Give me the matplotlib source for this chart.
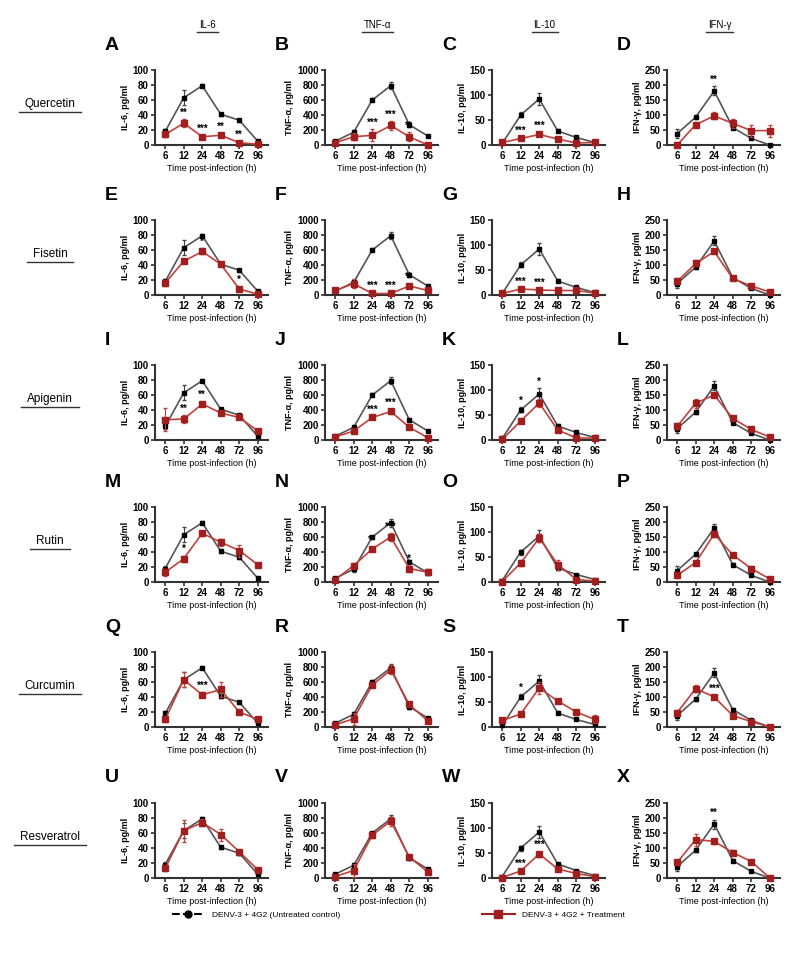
import numpy as np
import matplotlib
matplotlib.use('Agg')
import matplotlib.pyplot as plt
from matplotlib.lines import Line2D

plt.rcParams['font.family'] = ['Liberation Sans', 'DejaVu Sans']

# 数据：时间点、化合物、细胞因子
times = ["6", "12", "24", "48", "72", "96"]
compounds = ["Quercetin", "Fisetin", "Apigenin", "Rutin", "Curcumin", "Resveratrol"]
cytokines = ["IL-6", "TNF-α", "IL-10", "IFN-γ"]
ylabels = ["IL-6, pg/ml", "TNF-α, pg/ml", "IL-10, pg/ml", "IFN-γ, pg/ml"]
ymax = [100, 1000, 150, 250]
ystep = [20, 200, 50, 50]
letters = "ABCDEFGHIJKLMNOPQRSTUVWX"

# 未处理对照（每行相同）
ctrl_il6 = [18, 63, 79, 41, 33, 5]
ctrl_tnf = [50, 170, 600, 790, 270, 120]
ctrl_il10 = [3, 60, 92, 28, 15, 5]
ctrl_ifn = [38, 93, 180, 58, 22, 0]
ctrl_il6_err = [3, 10, 2, 2, 2, 2]
ctrl_tnf_err = [15, 30, 20, 50, 25, 15]
ctrl_il10_err = [2, 5, 12, 3, 2, 2]
ctrl_ifn_err = [15, 5, 15, 5, 3, 1]

# 处理组：每行一个化合物
trt_il6 = [
    [14, 29, 11, 13, 3, 1],
    [16, 45, 58, 41, 8, 1],
    [27, 28, 48, 36, 30, 12],
    [13, 31, 65, 53, 42, 23],
    [10, 63, 43, 50, 20, 10],
    [13, 63, 74, 58, 35, 11],
]
trt_il6_err = [
    [4, 5, 2, 2, 2, 1],
    [4, 3, 4, 2, 3, 1],
    [15, 5, 3, 2, 2, 2],
    [5, 4, 3, 5, 8, 2],
    [3, 10, 3, 10, 2, 3],
    [3, 15, 5, 8, 3, 2],
]
trt_tnf = [
    [30, 110, 130, 260, 110, 0],
    [60, 150, 20, 20, 120, 60],
    [40, 120, 300, 380, 170, 30],
    [30, 220, 440, 600, 180, 130],
    [30, 110, 560, 760, 300, 80],
    [20, 100, 570, 760, 280, 80],
]
trt_tnf_err = [
    [20, 50, 80, 60, 60, 10],
    [20, 60, 10, 10, 30, 20],
    [20, 30, 20, 30, 30, 20],
    [20, 30, 30, 50, 40, 40],
    [20, 80, 30, 60, 30, 30],
    [20, 90, 30, 60, 30, 30],
]
trt_il10 = [
    [5, 13, 21, 12, 4, 5],
    [3, 12, 10, 9, 9, 4],
    [1, 38, 74, 20, 4, 4],
    [1, 38, 88, 35, 5, 2],
    [13, 26, 78, 52, 30, 15],
    [1, 14, 48, 18, 9, 3],
]
trt_il10_err = [
    [2, 3, 4, 2, 2, 2],
    [2, 2, 2, 2, 2, 2],
    [1, 4, 8, 3, 2, 2],
    [1, 6, 8, 10, 3, 2],
    [5, 3, 12, 4, 3, 8],
    [1, 2, 5, 4, 3, 2],
]
trt_ifn = [
    [0, 68, 97, 72, 48, 48],
    [45, 105, 145, 55, 30, 10],
    [45, 123, 150, 72, 35, 10],
    [22, 65, 160, 90, 45, 10],
    [48, 128, 100, 38, 18, 0],
    [52, 128, 122, 85, 55, 0],
]
trt_ifn_err = [
    [2, 4, 12, 15, 20, 20],
    [10, 10, 5, 5, 5, 5],
    [10, 15, 8, 6, 5, 5],
    [8, 5, 10, 8, 8, 5],
    [8, 12, 5, 5, 3, 2],
    [8, 20, 8, 8, 5, 2],
]

# 显著性标记：面板序号 -> (时间索引, 文本, 标在对照'c'或处理't'之上)
stars = {
    0: [(1, "**", 't'), (2, "***", 't'), (3, "**", 't'), (4, "**", 't')],
    1: [(2, "***", 't'), (3, "***", 't'), (4, "**", 't')],
    2: [(1, "***", 't'), (2, "***", 't')],
    3: [(2, "**", 'c')],
    4: [(2, "*", 't'), (4, "*", 't')],
    5: [(2, "***", 't'), (3, "***", 't'), (4, "**", 't')],
    6: [(1, "***", 't'), (2, "***", 't')],
    8: [(1, "**", 't'), (2, "**", 't')],
    9: [(2, "***", 't'), (3, "***", 't')],
    10: [(1, "*", 'c'), (2, "*", 'c')],
    12: [(1, "*", 't')],
    13: [(2, "**", 't'), (3, "***", 't'), (4, "*", 't')],
    16: [(2, "***", 't')],
    18: [(1, "*", 'c')],
    19: [(2, "***", 't')],
    22: [(1, "***", 't'), (2, "***", 't')],
    23: [(2, "**", 'c')],
}

ctrl = [ctrl_il6, ctrl_tnf, ctrl_il10, ctrl_ifn]
ctrl_err = [ctrl_il6_err, ctrl_tnf_err, ctrl_il10_err, ctrl_ifn_err]
trt = [trt_il6, trt_tnf, trt_il10, trt_ifn]
trt_err = [trt_il6_err, trt_tnf_err, trt_il10_err, trt_ifn_err]

W, H = 796, 972
fig = plt.figure(figsize=(W / 100, H / 100), dpi=100)
col_left = [155, 325, 492, 667]
row_top = [70, 220, 365, 507, 652, 803]
ax_w, ax_h = 113, 75
x = np.arange(len(times))

underline_texts = []

for r in range(6):
    for c in range(4):
        k = r * 4 + c
        ax = fig.add_axes([col_left[c] / W, 1 - (row_top[r] + ax_h) / H, ax_w / W, ax_h / H])
        ax.errorbar(x, ctrl[c], yerr=ctrl_err[c], color='#555555', lw=1.2,
                    marker='s', ms=3.5, mfc='black', mec='black', ecolor='#444444',
                    elinewidth=0.8, capsize=1.2, clip_on=False, zorder=3)
        ax.errorbar(x, trt[c][r], yerr=trt_err[c][r], color='#c0413c', lw=1.2,
                    marker='s', ms=4, mfc='#a01e1e', mec='#a01e1e', ecolor='#c0413c',
                    elinewidth=0.8, capsize=1.2, clip_on=False, zorder=4)
        for ti, s, on in stars.get(k, []):
            if on == 'c':
                yv = ctrl[c][ti] + ctrl_err[c][ti]
            else:
                yv = trt[c][r][ti] + trt_err[c][r][ti]
            ax.text(ti, yv + 0.02 * ymax[c], s, ha='center', va='bottom',
                    fontsize=7, fontweight='bold', zorder=5)
        ax.set_xlim(-0.55, 5.55)
        ax.set_ylim(0, ymax[c])
        ax.set_xticks(x, times)
        ax.set_yticks(np.arange(0, ymax[c] + 1, ystep[c]))
        for sp in ['top', 'right']:
            ax.spines[sp].set_visible(False)
        for sp in ['left', 'bottom']:
            ax.spines[sp].set_linewidth(1.5)
            ax.spines[sp].set_color('#333333')
        ax.tick_params(length=3, width=1.2, color='#333333', labelsize=7, pad=1.5)
        for lb in ax.get_xticklabels() + ax.get_yticklabels():
            lb.set_fontweight('bold')
        ax.set_ylabel(ylabels[c], fontsize=6.5, fontweight='bold', labelpad=2)
        ax.set_xlabel("Time post-infection (h)", fontsize=6.5, labelpad=2)
        fig.text((col_left[c] - 50) / W, 1 - (row_top[r] - 25) / H, letters[k],
                 fontsize=14, fontweight='bold', ha='left', va='center')
    t = fig.text(50 / W, 1 - (row_top[r] + 34) / H, compounds[r], fontsize=8.5,
                 ha='center', va='center')
    underline_texts.append((t, 6))

for c in range(4):
    t = fig.text((col_left[c] + ax_w / 2 - 4) / W, 1 - 25 / H, cytokines[c],
                 fontsize=7, ha='center', va='center')
    underline_texts.append((t, 2))

# 下划线
fig.canvas.draw()
rend = fig.canvas.get_renderer()
for t, ext in underline_texts:
    bb = t.get_window_extent(rend)
    y0 = bb.y0 - 2
    fig.add_artist(Line2D([(bb.x0 - ext) / W, (bb.x1 + ext) / W], [y0 / H, y0 / H],
                          color='#333333', lw=1.0, transform=fig.transFigure))

handles = [
    Line2D([], [], color='black', ls='--', lw=1.5, marker='o', ms=5),
    Line2D([], [], color='#a01e1e', ls='-', lw=1.5, marker='s', ms=6),
]
fig.legend(handles, ["DENV-3 + 4G2 (Untreated control)", "DENV-3 + 4G2 + Treatment"],
           loc='center', bbox_to_anchor=(0.5, 1 - 915 / H), ncol=2, frameon=False,
           fontsize=6, handlelength=4, columnspacing=17)

fig.savefig("out.png", dpi=100)
